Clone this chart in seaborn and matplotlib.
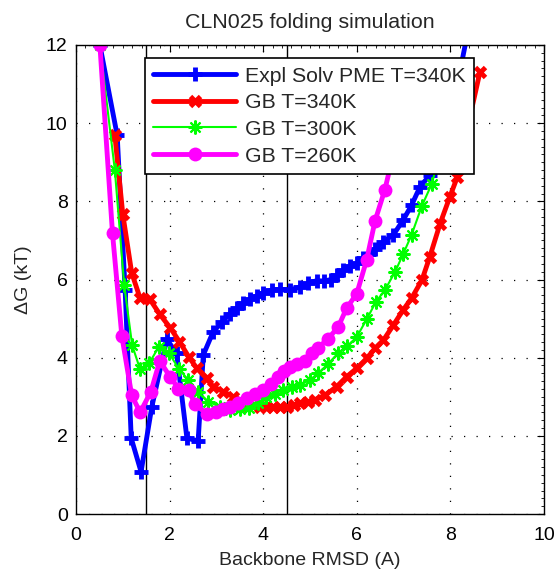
### CLN025 FOLDING FREE ENERGY PROFILE ###

import numpy as np
import pandas as pd
import matplotlib
matplotlib.use("Agg")
import matplotlib.pyplot as plt
import seaborn as sns

# Data (RMSD in A, free energy in kT)
expl_x = [0.51, 0.88, 1.05, 1.18, 1.39, 1.62, 1.94, 2.15, 2.37, 2.61, 2.72, 2.93, 3.13, 3.29,
          3.43, 3.57, 3.72, 3.86, 4.0, 4.18, 4.36, 4.57, 4.79, 4.96, 5.14, 5.3, 5.45, 5.57,
          5.71, 5.85, 6.0, 6.14, 6.27, 6.39, 6.57, 6.78, 6.99, 7.17, 7.35, 7.56, 7.75, 7.95,
          8.15, 8.45]
expl_y = [12.0, 9.69, 5.73, 1.94, 1.08, 2.74, 4.47, 4.11, 1.94, 1.87, 4.07, 4.66, 4.92, 5.13,
          5.26, 5.39, 5.49, 5.58, 5.66, 5.73, 5.75, 5.73, 5.81, 5.9, 5.97, 5.96, 6.0, 6.11,
          6.24, 6.34, 6.41, 6.54, 6.65, 6.77, 6.97, 7.14, 7.52, 7.9, 8.37, 8.67, 9.2, 10.0,
          11.0, 12.8]

gb340_x = [0.83, 1.0, 1.19, 1.37, 1.58, 1.79, 2.01, 2.21, 2.41, 2.58, 2.79, 2.93, 3.15, 3.36,
           3.5, 3.65, 3.93, 4.07, 4.22, 4.36, 4.5, 4.65, 4.79, 4.96, 5.1, 5.32, 5.57, 5.78,
           6.0, 6.21, 6.39, 6.57, 6.78, 6.99, 7.17, 7.39, 7.56, 7.78, 7.99, 8.15, 8.35, 8.63]
gb340_y = [9.69, 7.67, 6.17, 5.52, 5.49, 5.11, 4.77, 4.41, 4.02, 3.73, 3.47, 3.26, 3.13, 3.0,
           2.9, 2.79, 2.74, 2.74, 2.74, 2.74, 2.74, 2.78, 2.83, 2.87, 2.92, 3.04, 3.26, 3.51,
           3.73, 3.98, 4.24, 4.45, 4.83, 5.22, 5.52, 5.98, 6.58, 7.43, 8.12, 8.63, 9.8, 11.3]

gb300_x = [0.51, 0.83, 1.03, 1.2, 1.37, 1.57, 1.77, 1.99, 2.2, 2.4, 2.61, 2.83, 3.08, 3.3,
           3.5, 3.7, 3.88, 4.06, 4.25, 4.43, 4.61, 4.79, 5.0, 5.18, 5.39, 5.6, 5.8, 6.0,
           6.21, 6.41, 6.6, 6.82, 6.99, 7.17, 7.39, 7.6, 7.8, 8.0]
gb300_y = [12.0, 8.8, 5.86, 4.32, 3.7, 3.87, 4.28, 4.11, 3.71, 3.43, 3.13, 2.87, 2.74, 2.67,
           2.68, 2.7, 2.84, 3.0, 3.08, 3.17, 3.24, 3.3, 3.43, 3.6, 3.85, 4.11, 4.3, 4.53,
           4.98, 5.43, 5.73, 6.2, 6.65, 7.14, 7.88, 8.44, 9.3, 10.3]

gb260_x = [0.51, 0.78, 0.98, 1.19, 1.37, 1.6, 1.79, 2.01, 2.19, 2.41, 2.54, 2.79, 3.0, 3.15,
           3.29, 3.47, 3.65, 3.83, 4.0, 4.16, 4.32, 4.45, 4.57, 4.73, 4.89, 5.04, 5.18, 5.39,
           5.6, 5.78, 6.0, 6.21, 6.39, 6.6, 6.8, 7.0]
gb260_y = [12.0, 7.18, 4.55, 3.04, 2.6, 3.13, 3.92, 3.51, 3.21, 3.17, 2.81, 2.57, 2.62, 2.68,
           2.74, 2.85, 2.97, 3.07, 3.17, 3.32, 3.51, 3.65, 3.75, 3.83, 3.92, 4.11, 4.26, 4.49,
           4.78, 5.26, 5.64, 6.5, 7.5, 8.3, 9.3, 10.4]

labels = ["Expl Solv PME T=340K", "GB T=340K", "GB T=300K", "GB T=260K"]
vlines_x = [1.5, 4.5]

# Style: MATLAB-like look
sns.set_style("white")
plt.rcParams['font.family'] = ['Liberation Sans', 'DejaVu Sans']
plt.rcParams['xtick.direction'] = 'in'
plt.rcParams['ytick.direction'] = 'in'

fig = plt.figure(figsize = (5.58, 5.71), dpi = 100)
ax = fig.add_axes([0.1362, 0.0998, 0.8387, 0.8214])

# One entry per series: data + look
series = [
    (expl_x, expl_y, labels[0], "#0000ff", dict(marker = "+", markersize = 10, markeredgewidth = 3.5, linewidth = 3.5)),
    (gb340_x, gb340_y, labels[1], "#ff0000", dict(marker = "x", markersize = 7, markeredgewidth = 3.5, linewidth = 3.5)),
    (gb300_x, gb300_y, labels[2], "#00ff00", dict(marker = (8, 2, 0), markersize = 10, markeredgewidth = 1.5, linewidth = 1.5)),
    (gb260_x, gb260_y, labels[3], "#ff00ff", dict(marker = "o", markersize = 10, markeredgewidth = 0, linewidth = 3.5)),
]

for xs, ys, lab, col, kw in series:
    df = pd.DataFrame({"rmsd": xs, "dG": ys})
    sns.lineplot(data = df, x = "rmsd", y = "dG", sort = False, color = col,
                 markerfacecolor = col, markeredgecolor = col, label = lab, ax = ax, **kw)

# Reference lines
for vx in vlines_x:
    ax.axvline(vx, color = "black", linewidth = 1, zorder = 1)

ax.set_xlim(0, 10)
ax.set_ylim(0, 12)
ax.set_xticks(np.arange(0, 11, 2))
ax.set_yticks(np.arange(0, 13, 2))
ax.set_xticks(np.arange(0, 10.01, 0.2), minor = True)
ax.set_yticks(np.arange(0, 12.01, 0.2), minor = True)
ax.tick_params(which = "both", top = True, right = True, labelsize = 14, colors = "black")
ax.tick_params(which = "major", length = 5)
ax.tick_params(which = "minor", length = 2.5)
ax.tick_params(axis = "x", which = "major", pad = 9)
ax.tick_params(axis = "y", which = "major", pad = 6)
ax.grid(True, which = "major", color = "black", linestyle = (0, (1, 9)), linewidth = 0.9)

for s in ax.spines.values():
    s.set_color("black")
    s.set_linewidth(1)

ax.set_xlabel("Backbone RMSD (A)", fontsize = 14, labelpad = 6)
ax.set_ylabel("ΔG (kT)", fontsize = 14, labelpad = 10)
ax.set_title("CLN025 folding simulation", fontsize = 15.4, pad = 12)

leg = ax.legend(loc = "upper left", bbox_to_anchor = (0.147, 0.972), borderaxespad = 0,
                fontsize = 15.3, fancybox = False, framealpha = 1, edgecolor = "black",
                handlelength = 3.9, borderpad = 0.4, labelspacing = 0.36, handletextpad = 0.4)
leg.get_frame().set_linewidth(1.2)
leg.set_zorder(10)

plt.savefig("out.png", dpi = 100)
